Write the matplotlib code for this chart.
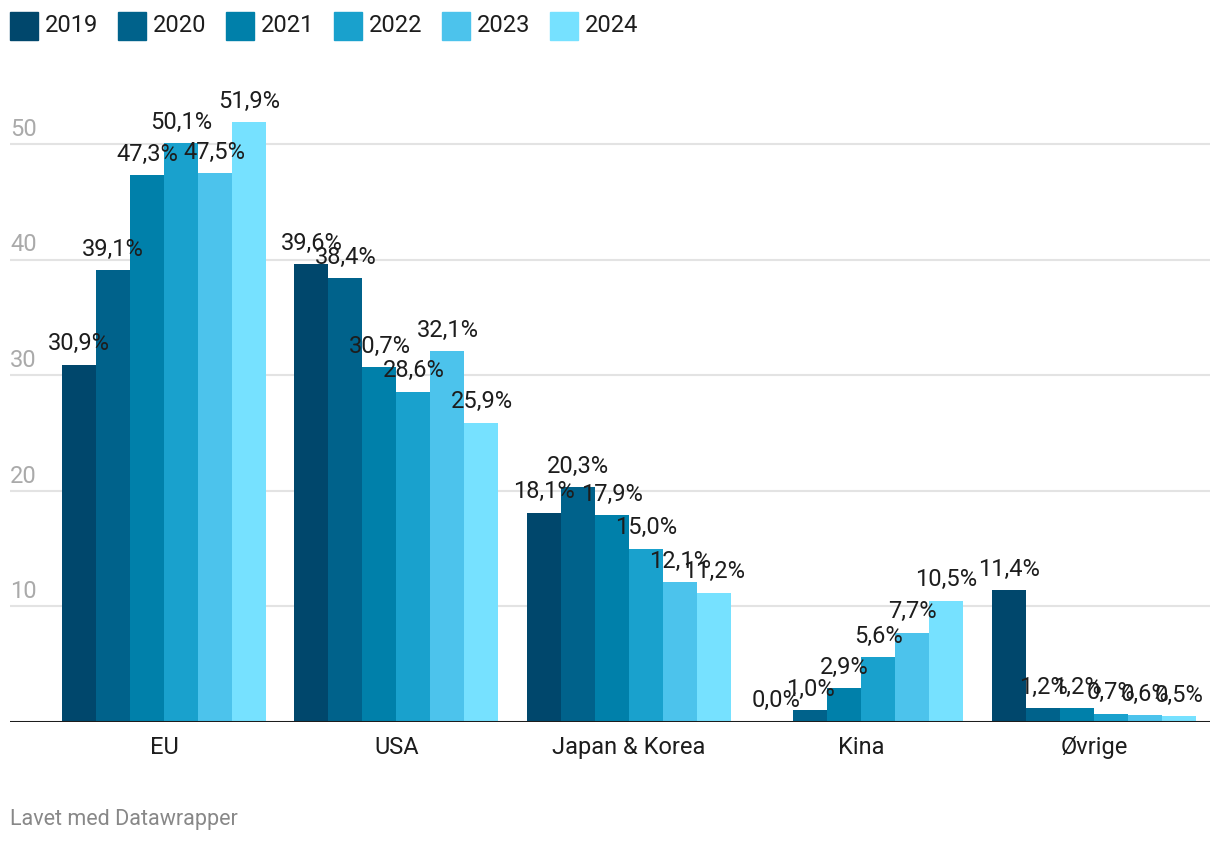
import numpy as np
import matplotlib
matplotlib.use('Agg')
import matplotlib.pyplot as plt
from matplotlib.patches import Rectangle
from matplotlib.transforms import blended_transform_factory

plt.rcParams['font.family'] = ['Roboto', 'DejaVu Sans']

categories = ['EU', 'USA', 'Japan & Korea', 'Kina', 'Øvrige']
years = ['2019', '2020', '2021', '2022', '2023', '2024']
values = {
    '2019': [30.9, 39.6, 18.1, 0.0, 11.4],
    '2020': [39.1, 38.4, 20.3, 1.0, 1.2],
    '2021': [47.3, 30.7, 17.9, 2.9, 1.2],
    '2022': [50.1, 28.6, 15.0, 5.6, 0.7],
    '2023': [47.5, 32.1, 12.1, 7.7, 0.6],
    '2024': [51.9, 25.9, 11.2, 10.5, 0.5],
}
colors = ['#00476c', '#00628b', '#0080aa', '#19a1cd', '#4cc3ec', '#76e1ff']
yticks = [10, 20, 30, 40, 50]

W, H = 1220, 844
fig = plt.figure(figsize=(W / 100, H / 100), dpi=100)
ax_bottom = 722
ax_top = 98
ax = fig.add_axes([10 / W, 1 - ax_bottom / H, 1200 / W, (ax_bottom - ax_top) / H])

x = np.arange(len(categories))
bw = 34 / 232.5
for i, yr in enumerate(years):
    xs = x + (i - 2.5) * bw
    ax.bar(xs, values[yr], bw, color=colors[i], linewidth=0, zorder=2)
    for xx, v in zip(xs, values[yr]):
        ax.annotate(f'{v:.1f}%'.replace('.', ','), (xx, v), xytext=(0, 10.5),
                    textcoords='offset points', ha='center', va='baseline',
                    fontsize=17, color='#1d1d1d', zorder=4)

ax.set_xlim(-0.662, 4.499)
ax.set_ylim(0, 54)
for t in yticks:
    ax.axhline(t, color='#e3e3e3', lw=1.5, zorder=1)
trans = blended_transform_factory(ax.transAxes, ax.transData)
for t in yticks:
    ax.annotate(str(t), (0, t), xycoords=trans, xytext=(0, 6), textcoords='offset points',
                ha='left', va='baseline', fontsize=17, color='#aaaaaa')
ax.axhline(0, color='#1d1d1d', lw=2.2, zorder=3)

ax.set_xticks(x)
ax.set_xticklabels(categories, fontsize=17, color='#1d1d1d')
ax.tick_params(axis='x', length=0, pad=10)
ax.set_yticks([])
for s in ax.spines.values():
    s.set_visible(False)

# legend
for i, yr in enumerate(years):
    x0 = 10 + 108 * i
    fig.patches.append(Rectangle((x0 / W, 1 - 40 / H), 28 / W, 28 / H,
                                 transform=fig.transFigure, color=colors[i]))
    fig.text((x0 + 35) / W, 1 - 26 / H, yr, fontsize=17, color='#1d1d1d',
             ha='left', va='center')

fig.text(10 / W, 1 - 819 / H, 'Lavet med Datawrapper', fontsize=15.5,
         color='#888888', ha='left', va='center')

fig.savefig('out.png', dpi=100)
